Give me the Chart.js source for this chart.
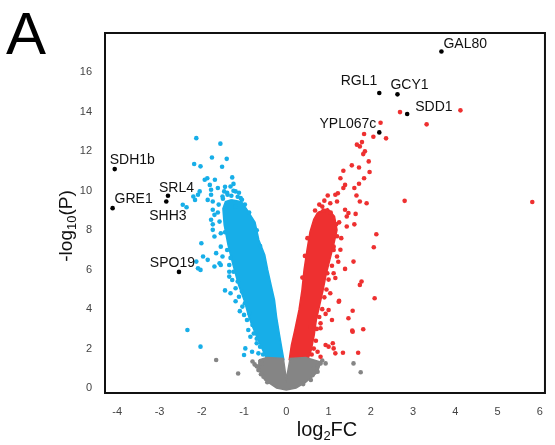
<!DOCTYPE html>
<html>
<head>
<meta charset="utf-8">
<script src="https://cdn.jsdelivr.net/npm/chart.js@4/dist/chart.umd.min.js"></script>
<style>
  html, body { margin: 0; padding: 0; background: #fff; }
  #wrap { position: relative; width: 555px; height: 445px; }
</style>
</head>
<body>
<div id="wrap"><canvas id="volcano" width="555" height="445"></canvas></div>
<script>
// Vulkanplot: log2FC gegen -log10(P)

const xTickValues = [-4, -3, -2, -1, 0, 1, 2, 3, 4, 5, 6];
const yTickValues = [0, 2, 4, 6, 8, 10, 12, 14, 16];

// dichte Kernbereiche (Umriss der geschlossenen Punktwolken)
const downCore = [
  [-1.30, 9.55], [-1.06, 9.45], [-0.93, 9.05], [-0.74, 8.40], [-0.65, 7.51], [-0.51, 6.75],
  [-0.44, 5.99], [-0.35, 5.13], [-0.28, 4.47], [-0.23, 3.60], [-0.16, 2.69], [-0.10, 1.93],
  [-0.06, 1.45], [-0.46, 1.45], [-0.56, 1.93], [-0.72, 2.69], [-0.88, 3.55], [-1.00, 4.47],
  [-1.13, 5.23], [-1.26, 6.24], [-1.38, 7.26], [-1.47, 8.27], [-1.50, 9.10], [-1.44, 9.45]
];
const upCore = [
  [0.74, 8.90], [0.98, 9.10], [1.14, 8.70], [1.20, 8.02], [1.12, 7.26], [1.03, 6.50],
  [0.94, 5.74], [0.87, 4.97], [0.79, 4.21], [0.71, 3.45], [0.66, 2.69], [0.59, 1.93],
  [0.51, 1.45], [0.07, 1.45], [0.12, 2.18], [0.20, 2.94], [0.30, 3.96], [0.37, 4.97],
  [0.42, 5.99], [0.49, 7.01], [0.56, 7.92], [0.65, 8.55]
];
const nsCore = [
  [-0.65, 1.42], [-0.46, 1.55], [-0.07, 1.50], [0.00, 0.45], [0.09, 1.50], [0.46, 1.55],
  [0.81, 1.32], [0.74, 0.81], [0.46, 0.30], [0.23, 0.00], [0.00, -0.10], [-0.23, 0.00],
  [-0.51, 0.41], [-0.65, 0.91]
];

// einzelne Gene ausserhalb der Kerne
const downGenes = [
  [-2.13, 12.67], [-1.56, 12.39], [-1.76, 11.69], [-1.41, 11.62], [-2.18, 11.36], [-2.03, 11.24],
  [-1.52, 11.22], [-1.87, 10.64], [-1.69, 10.56], [-1.28, 10.68], [-1.81, 10.30], [-1.62, 10.14],
  [-1.32, 10.22], [-1.20, 9.97], [-2.20, 9.71], [-2.09, 9.80], [-1.78, 9.80], [-1.86, 9.54],
  [-1.74, 9.46], [-1.51, 9.71], [-1.47, 9.97], [-1.39, 9.80], [-1.08, 9.63], [-1.74, 9.04],
  [-1.70, 8.78], [-1.74, 8.30], [-1.58, 8.44], [-2.45, 9.29], [-2.36, 9.17], [-2.16, 9.54],
  [-2.05, 9.97], [-1.93, 10.56], [-1.78, 10.05], [-1.78, 8.53], [-1.74, 8.02], [-1.70, 7.68],
  [-1.55, 7.85], [-2.01, 7.34], [-1.97, 6.67], [-1.86, 6.50], [-2.13, 6.41], [-2.09, 6.07],
  [-2.03, 5.99], [-1.70, 6.16], [-1.58, 6.33], [-1.66, 6.84], [-1.55, 7.17], [-1.51, 6.67],
  [-1.55, 6.24], [-1.35, 5.65], [-1.32, 4.81], [-1.35, 6.24], [-1.35, 5.90], [-1.28, 5.48],
  [-1.20, 5.06], [-1.12, 4.63], [-1.04, 4.13], [-1.00, 3.71], [-0.93, 3.45], [-0.90, 2.94],
  [-0.77, 2.77], [-0.85, 2.60], [-0.97, 2.01], [-1.00, 1.68], [-0.81, 1.84], [-0.70, 2.27],
  [-0.66, 1.76], [-2.34, 2.94], [-2.03, 2.10], [-1.45, 10.20], [-1.25, 10.35], [-1.15, 9.70],
  [-1.60, 9.30], [-1.20, 9.20], [-1.62, 8.90], [-1.45, 4.95], [-1.20, 4.40], [-1.10, 3.90],
  [-1.40, 9.90], [-1.30, 9.75], [-1.12, 9.90], [-1.05, 9.55], [-1.50, 9.60], [-1.25, 10.00],
  [-0.98, 9.30], [-0.88, 8.90], [-1.45, 7.90], [-1.40, 7.00], [-1.32, 6.60], [-1.25, 5.90],
  [-1.15, 5.40], [-1.05, 4.90], [-0.98, 4.30], [-0.88, 3.80], [-0.80, 3.20], [-0.70, 2.50],
  [-0.62, 2.10], [-0.55, 1.70], [-0.70, 8.00], [-0.62, 7.20]
];
const upGenes = [
  [2.69, 13.99], [4.12, 14.08], [3.32, 13.37], [2.23, 13.45], [2.06, 12.74], [2.36, 12.66],
  [5.82, 9.43], [2.80, 9.49], [1.84, 12.88], [1.79, 12.47], [1.67, 12.34], [1.74, 12.25],
  [1.86, 12.00], [1.82, 11.86], [1.95, 11.49], [1.55, 11.29], [1.72, 11.18], [1.97, 10.95],
  [1.35, 11.02], [1.84, 10.64], [1.28, 10.64], [1.72, 10.36], [1.39, 10.30], [1.35, 10.14],
  [1.61, 10.14], [1.22, 9.88], [1.16, 9.80], [0.98, 9.76], [1.66, 9.76], [1.74, 9.46],
  [1.90, 9.37], [1.04, 9.37], [1.20, 9.46], [0.85, 9.20], [1.39, 9.04], [1.47, 8.87],
  [1.64, 8.83], [1.43, 8.70], [1.43, 8.19], [1.61, 8.30], [2.13, 7.80], [2.07, 7.14],
  [1.59, 6.41], [1.39, 6.04], [1.78, 5.40], [1.74, 5.23], [1.25, 4.42], [2.09, 4.55],
  [1.57, 3.92], [1.47, 3.54], [1.08, 3.45], [0.93, 3.76], [1.56, 2.91], [1.82, 2.98],
  [1.12, 7.17], [1.20, 6.67], [0.97, 5.82], [1.12, 5.82], [1.04, 4.81], [1.00, 3.96],
  [0.81, 3.03], [1.24, 4.38], [1.34, 1.79], [1.70, 1.79], [0.81, 3.28], [0.58, 3.11],
  [0.93, 2.18], [1.00, 2.10], [1.10, 2.27], [1.12, 2.01], [1.16, 1.76], [1.57, 2.86],
  [0.74, 1.84], [0.81, 1.59], [1.28, 7.01], [1.23, 6.40], [1.16, 5.58], [1.30, 7.60],
  [1.25, 8.40], [1.05, 8.90], [0.90, 9.50], [0.78, 9.30], [1.18, 8.30], [1.20, 7.70],
  [1.12, 7.00], [1.08, 6.20], [1.00, 5.50], [0.95, 5.00], [0.90, 4.60], [0.85, 4.00],
  [0.78, 3.60], [0.72, 3.00], [0.70, 2.40], [0.65, 2.00], [0.60, 1.70], [0.50, 7.60],
  [0.44, 6.70], [0.38, 5.60], [0.68, 9.00], [0.88, 9.00]
];
const nsGenes = [
  [-1.66, 1.42], [-1.14, 0.74], [-0.66, 0.91], [-0.58, 1.25], [-0.54, 0.57], [0.81, 1.25],
  [0.93, 1.25], [0.74, 0.83], [0.58, 0.41], [1.59, 1.25], [1.76, 0.80], [-0.75, 1.20],
  [-0.45, 0.30], [0.40, 0.20], [0.65, 1.00], [-0.80, 1.35], [-0.70, 1.10], [-0.60, 0.70],
  [0.75, 1.15], [0.62, 0.65], [0.85, 1.40]
];

// beschriftete Gene
const geneNames = ['GAL80', 'RGL1', 'GCY1', 'SDD1', 'YPL067c', 'SDH1b', 'GRE1', 'SRL4', 'SHH3', 'SPO19'];
const geneLog2FC = [3.67, 2.20, 2.63, 2.86, 2.20, -4.06, -4.11, -2.80, -2.84, -2.54];
const geneLogP = [17.06, 14.96, 14.89, 13.89, 12.96, 11.10, 9.12, 9.75, 9.46, 5.89];

const BLUE = '#17aee8';
const RED = '#ee3030';
const GREY = '#858585';

const toXY = arr => arr.map(([x, y]) => ({ x, y }));
const closed = arr => toXY([...arr, arr[0]]);

// Versatz der Beschriftungen in Pixeln
const labelOffsets = {
  GAL80: [2, -7, 'left'], RGL1: [-2, -12, 'right'], GCY1: [-7, -9, 'left'],
  SDD1: [8, -7, 'left'], YPL067c: [-3, -8, 'right'], SDH1b: [-5, -9, 'left'],
  GRE1: [2, -9, 'left'], SRL4: [-9, -8, 'left'], SHH3: [-17, 15, 'left'],
  SPO19: [16, -9, 'right']
};

const FONT = '"Liberation Sans", Arial, sans-serif';

function drawSubText(ctx, parts, x, y, size, align) {
  const subSize = Math.round(size * 0.66);
  let total = 0;
  parts.forEach(p => {
    ctx.font = `${p.sub ? subSize : size}px ${FONT}`;
    total += ctx.measureText(p.t).width;
  });
  let cx = align === 'center' ? x - total / 2 : x;
  ctx.textAlign = 'left';
  ctx.textBaseline = 'alphabetic';
  parts.forEach(p => {
    ctx.font = `${p.sub ? subSize : size}px ${FONT}`;
    ctx.fillText(p.t, cx, p.sub ? y + size * 0.22 : y);
    cx += ctx.measureText(p.t).width;
  });
}

const decorPlugin = {
  id: 'decor',
  afterDatasetsDraw(chart) {
    const { ctx, chartArea: a, scales } = chart;
    ctx.save();
    // Rahmen
    ctx.strokeStyle = '#111';
    ctx.lineWidth = 2;
    ctx.strokeRect(a.left, a.top, a.right - a.left, a.bottom - a.top);
    // Genbeschriftungen
    ctx.fillStyle = '#111';
    ctx.font = `14px ${FONT}`;
    ctx.textBaseline = 'middle';
    geneNames.forEach((name, i) => {
      const px = scales.x.getPixelForValue(geneLog2FC[i]);
      const py = scales.y.getPixelForValue(geneLogP[i]);
      const [dx, dy, align] = labelOffsets[name];
      ctx.textAlign = align;
      ctx.fillText(name, px + dx, py + dy);
    });
    ctx.restore();
  },
  afterDraw(chart) {
    const { ctx, chartArea: a } = chart;
    ctx.save();
    ctx.fillStyle = '#111';
    drawSubText(ctx, [{ t: 'log' }, { t: '2', sub: true }, { t: 'FC' }], (a.left + a.right) / 2 + 2, 436, 20, 'center');
    ctx.translate(72, 226);
    ctx.rotate(-Math.PI / 2);
    drawSubText(ctx, [{ t: '-log' }, { t: '10', sub: true }, { t: '(P)' }], 0, 0, 19, 'center');
    ctx.restore();
    ctx.save();
    ctx.fillStyle = '#000';
    ctx.font = `60px ${FONT}`;
    ctx.textAlign = 'left';
    ctx.textBaseline = 'alphabetic';
    ctx.fillText('A', 6, 54);
    ctx.restore();
  }
};

const pointSet = (data, color, order) => ({
  type: 'scatter',
  data: toXY(data),
  backgroundColor: color,
  borderColor: color,
  pointRadius: 2.3,
  pointBorderWidth: 0,
  order
});

const coreSet = (data, color, order) => ({
  type: 'line',
  data: closed(data),
  borderColor: color,
  backgroundColor: color,
  borderWidth: 1.5,
  pointRadius: 0,
  tension: 0,
  fill: 'shape',
  order
});

new Chart(document.getElementById('volcano'), {
  type: 'scatter',
  data: {
    datasets: [
      pointSet(geneLog2FC.map((x, i) => [x, geneLogP[i]]), '#000', 0),
      pointSet(downGenes, BLUE, 1),
      pointSet(upGenes, RED, 1),
      pointSet(nsGenes, GREY, 2),
      coreSet(nsCore, GREY, 3),
      coreSet(downCore, BLUE, 4),
      coreSet(upCore, RED, 4)
    ]
  },
  options: {
    responsive: false,
    devicePixelRatio: 1,
    animation: false,
    layout: { padding: { left: 0, top: 33, right: 1, bottom: 0 } },
    plugins: { legend: { display: false }, tooltip: { enabled: false } },
    scales: {
      x: {
        type: 'linear',
        min: -4.29,
        max: 6.12,
        afterFit: s => { s.height = 52; },
        afterBuildTicks: s => { s.ticks = xTickValues.map(v => ({ value: v })); },
        grid: { display: false, drawTicks: false },
        border: { display: false },
        ticks: { color: '#444', font: { size: 11, family: FONT }, padding: 12 }
      },
      y: {
        type: 'linear',
        min: -0.25,
        max: 18,
        afterFit: s => { s.width = 105; },
        afterBuildTicks: s => { s.ticks = yTickValues.map(v => ({ value: v })); },
        grid: { display: false, drawTicks: false },
        border: { display: false },
        ticks: { color: '#444', font: { size: 11, family: FONT }, padding: 13 }
      }
    }
  },
  plugins: [decorPlugin]
});
</script>
</body>
</html>
